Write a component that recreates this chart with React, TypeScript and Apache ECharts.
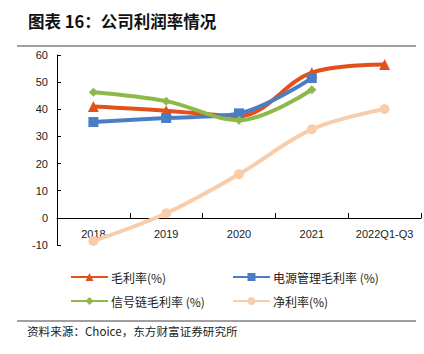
import React, { useEffect, useRef } from "react";
import * as echarts from "echarts";

const categories = ["2018", "2019", "2020", "2021", "2022Q1-Q3"];
const grossMargin = [41, 39.5, 37.5, 53.5, 56.5];
const powerMgmtMargin = [35.3, 36.8, 38.5, 51.5];
const signalChainMargin = [46.3, 43, 36, 47.2];
const netMargin = [-8.5, 1.7, 16.1, 32.6, 40.1];
const yTicks = { min: -10, max: 60, interval: 10 };

const names = ["毛利率(%)", "电源管理毛利率 (%)", "信号链毛利率 (%)", "净利率(%)"];
const colors = ["#E2501E", "#4A7EC4", "#8DB84A", "#F9CDAA"];

export default function App() {
  const ref = useRef<HTMLDivElement>(null);
  useEffect(() => {
    const chart = echarts.init(ref.current!, null, { renderer: "svg" });
    const cjk = '"Noto Sans CJK SC", sans-serif';
    const mk = (i: number, data: number[], symbol: string, size: number) => ({
      name: names[i],
      type: "line",
      data,
      smooth: 0.35,
      symbol,
      symbolSize: size,
      showSymbol: true,
      lineStyle: { width: 4, color: colors[i] },
      itemStyle: { color: colors[i] },
      z: 2 + (i === 3 ? 0 : i),
    });
    const legendPos = [
      { left: 70, top: 271 },
      { left: 232, top: 271 },
      { left: 70, top: 295 },
      { left: 232, top: 295 },
    ];
    chart.setOption({
      animation: false,
      backgroundColor: "#ffffff",
      grid: { left: 57, top: 55, width: 364, height: 190, containLabel: false },
      xAxis: {
        type: "category",
        data: categories,
        position: "bottom",
        offset: -27,
        axisLine: { onZero: false, lineStyle: { color: "#000", width: 1 } },
        axisTick: { show: true, inside: true, length: 5, lineStyle: { color: "#000" } },
        axisLabel: { interval: 0, color: "#222", fontSize: 11, fontFamily: "Liberation Sans, Arial, sans-serif", margin: 10 },
      },
      yAxis: {
        type: "value",
        min: yTicks.min,
        max: yTicks.max,
        interval: yTicks.interval,
        splitLine: { show: false },
        axisLine: { show: true, lineStyle: { color: "#000", width: 1 } },
        axisTick: { show: true, inside: true, length: 4, lineStyle: { color: "#000" } },
        axisLabel: { color: "#222", fontSize: 11, fontFamily: "Liberation Sans, Arial, sans-serif", margin: 9 },
      },
      legend: legendPos.map((p, i) => ({
        data: [names[i]],
        left: p.left,
        top: p.top,
        itemWidth: 37,
        itemHeight: 10,
        itemGap: 4,
        textStyle: { fontSize: 12, color: "#222", fontFamily: cjk, padding: [0, 0, 0, -2] },
        padding: 0,
      })),
      series: [
        mk(3, netMargin, "circle", 10),
        mk(0, grossMargin, "triangle", 11),
        mk(1, powerMgmtMargin, "rect", 10),
        mk(2, signalChainMargin, "diamond", 9),
      ],
      graphic: [
        {
          type: "text",
          left: 28,
          top: 13,
          style: { text: "图表 16：公司利润率情况", font: 'bold 16.5px "Noto Sans CJK SC"', fill: "#111" },
        },
        {
          type: "line",
          shape: { x1: 17, y1: 46, x2: 416, y2: 46 },
          style: { stroke: "#808080", lineWidth: 1.5 },
        },
        {
          type: "line",
          shape: { x1: 17, y1: 321, x2: 416, y2: 321 },
          style: { stroke: "#808080", lineWidth: 1.5 },
        },
        {
          type: "text",
          left: 27,
          top: 325,
          style: { text: "资料来源：Choice，东方财富证券研究所", font: '11.6px "Noto Sans CJK SC"', fill: "#222" },
        },
      ],
    });
    return () => chart.dispose();
  }, []);
  return <div ref={ref} style={{ width: 424, height: 354, position: "absolute", left: 0, top: 0 }} />;
}
